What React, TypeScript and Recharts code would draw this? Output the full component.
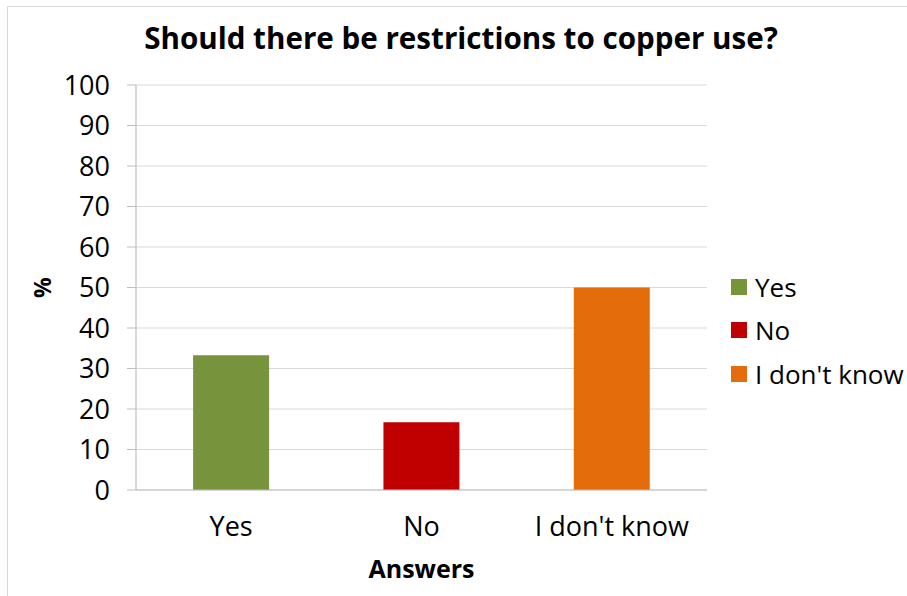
import { BarChart, Bar, XAxis, YAxis, CartesianGrid, Legend, Cell } from 'recharts';

const answers = ['Yes', 'No', "I don't know"];
const percentages = [33.3, 16.7, 50];
const barColors = ['#77933C', '#C00000', '#E46C0A'];
const yTicks = [0, 10, 20, 30, 40, 50, 60, 70, 80, 90, 100];

const FONT = '"Open Sans", sans-serif';

const data = answers.map((answer, i) => ({ answer, pct: percentages[i] }));

function AnswerLegend() {
  return (
    <div style={{ fontFamily: FONT }}>
      {answers.map((answer, i) => (
        <div
          key={answer}
          style={{ display: 'flex', alignItems: 'center', height: 43.5, fontSize: 26, color: '#000' }}
        >
          <span style={{ width: 16, height: 16, background: barColors[i], marginRight: 8, display: 'inline-block' }} />
          {answer}
        </div>
      ))}
    </div>
  );
}

export default function App() {
  return (
    <div style={{ position: 'fixed', left: 0, top: 0, width: 907, height: 596, overflow: 'hidden', background: '#fff' }}>
      {/* outer chart frame */}
      <div
        style={{ position: 'absolute', left: 7, top: 6, width: 1000, height: 1000, border: '1px solid #d9d9d9', boxSizing: 'border-box' }}
      />
      <div
        style={{
          position: 'absolute',
          left: 0,
          width: 922,
          top: 18,
          textAlign: 'center',
          fontFamily: FONT,
          fontWeight: 700,
          fontSize: 29.6,
          color: '#000',
          lineHeight: '40px',
        }}
      >
        Should there be restrictions to copper use?
      </div>
      <div style={{ position: 'absolute', left: 0, top: 0 }}>
        <BarChart
          width={907}
          height={596}
          data={data}
          margin={{ top: 85, right: 200, bottom: 0, left: 0 }}
          barCategoryGap="30%"
        >
          <CartesianGrid vertical={false} stroke="#d9d9d9" strokeWidth={1.2} />
          <XAxis
            dataKey="answer"
            height={106}
            tickLine={false}
            axisLine={{ stroke: '#bfbfbf', strokeWidth: 1.2 }}
            tick={{ fontSize: 27, fill: '#000', fontFamily: FONT }}
            tickMargin={21}
            label={{
              value: 'Answers',
              position: 'insideBottom',
              offset: 18,
              style: { fontSize: 25, fontWeight: 700, fill: '#000', fontFamily: FONT },
            }}
          />
          <YAxis
            width={136}
            domain={[0, 100]}
            ticks={yTicks}
            interval={0}
            tickSize={9}
            tickMargin={17}
            tickLine={{ stroke: '#bfbfbf' }}
            axisLine={{ stroke: '#bfbfbf', strokeWidth: 1.2 }}
            tick={{ fontSize: 27, fill: '#000', fontFamily: FONT }}
            label={{
              content: ({ viewBox }: any) => {
                const cx = viewBox.x + 42;
                const cy = viewBox.y + viewBox.height / 2;
                return (
                  <text
                    x={cx}
                    y={cy}
                    transform={`rotate(-90 ${cx} ${cy})`}
                    textAnchor="middle"
                    dominantBaseline="central"
                    fontSize={23}
                    fontWeight={700}
                    fontFamily={FONT}
                    fill="#000"
                  >
                    %
                  </text>
                );
              },
            }}
          />
          <Legend
            layout="vertical"
            align="center"
            verticalAlign="middle"
            wrapperStyle={{ left: 731, top: 265, width: 176 }}
            content={() => <AnswerLegend />}
          />
          <Bar dataKey="pct" isAnimationActive={false}>
            {data.map((d, i) => (
              <Cell key={d.answer} fill={barColors[i]} />
            ))}
          </Bar>
        </BarChart>
      </div>
    </div>
  );
}
